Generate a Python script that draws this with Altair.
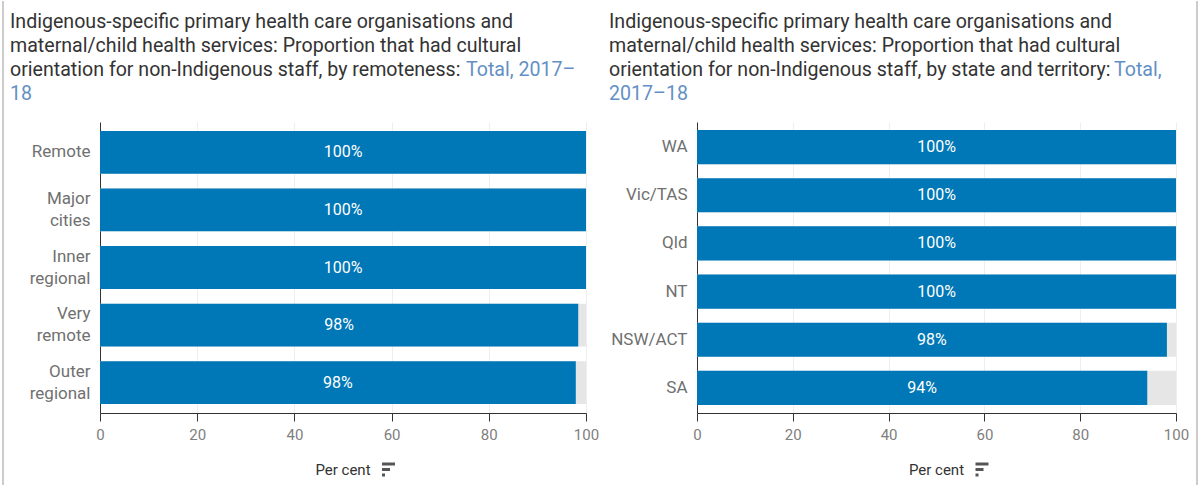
import altair as alt
import pandas as pd

FONT = "Roboto"

remote_cats = ["Remote", "Major cities", "Inner regional", "Very remote", "Outer regional"]
remote_vals = [100, 100, 100, 98.4, 97.9]

state_cats = ["WA", "Vic/TAS", "Qld", "NT", "NSW/ACT", "SA"]
state_vals = [100, 100, 100, 100, 98.1, 94.0]

x_ticks = [0, 20, 40, 60, 80, 100]
axis_title = "Per cent"

title_left_dark = [
    "Indigenous-specific primary health care organisations and",
    "maternal/child health services: Proportion that had cultural",
    "orientation for non-Indigenous staff, by remoteness:",
]
title_left_blue = ["Total, 2017–", "18"]

title_right_dark = [
    "Indigenous-specific primary health care organisations and",
    "maternal/child health services: Proportion that had cultural",
    "orientation for non-Indigenous staff, by state and territory:",
]
title_right_blue = ["Total,", "2017–18"]

BLUE = "#0077b6"
GREY_BG = "#e6e6e6"
DARK = "#333333"
LINK = "#6390c4"
TITLE_SIZE = 19.6

one_row = alt.Data(values=[{}])


def text_at(s, x, y, color, size=TITLE_SIZE, align="left"):
    return alt.Chart(one_row).mark_text(
        text=s, align=align, baseline="middle", fontSize=size, color=color, font=FONT
    ).encode(x=alt.value(x), y=alt.value(y))


def rule_at(x, x2, y, y2, color, sw):
    return alt.Chart(one_row).mark_rule(color=color, strokeWidth=sw).encode(
        x=alt.value(x), x2=alt.value(x2), y=alt.value(y), y2=alt.value(y2)
    )


def panel(cats, vals, W, H, pin, pout, dark, blue, blue_x, title_x, border_x):
    df = pd.DataFrame({"cat": cats, "value": vals})
    df["full"] = 100
    base = alt.Chart(df)
    y = alt.Y(
        "cat:N",
        sort=cats,
        title=None,
        scale=alt.Scale(paddingInner=pin, paddingOuter=pout),
        axis=alt.Axis(
            labelOffset={"condition": {"test": "indexof(datum.label, ' ') > 0", "value": -11}, "value": 0}
        ),
    )
    xs = alt.Scale(domain=[0, 100], nice=False)
    xax = alt.Axis(values=x_ticks)
    bg = base.mark_bar(color=GREY_BG).encode(
        x=alt.X("full:Q", scale=xs, title=None, axis=xax), y=y
    )
    bars = base.mark_bar(color=BLUE).encode(
        x=alt.X("value:Q", scale=xs, title=None, axis=xax), y=y
    )
    labels = (
        base.transform_calculate(
            mid="datum.value / 2", lbl="format(datum.value, '.0f') + '%'"
        )
        .mark_text(color="white", fontSize=16, font=FONT)
        .encode(x=alt.X("mid:Q", scale=xs, title=None, axis=xax), y=y, text="lbl:N")
    )
    layers = [bg, bars, labels]
    ys = [-100, -76, -52, -28]
    for i, s in enumerate(dark):
        layers.append(text_at(s, title_x, ys[i], DARK))
    layers.append(text_at(blue[0], blue_x, ys[2], LINK))
    layers.append(text_at(blue[1], title_x, ys[3], LINK))
    # axis title with sort icon
    cx = W / 2
    layers.append(text_at(axis_title, cx, 348, DARK, size=15, align="center"))
    ix = cx + 39
    layers.append(rule_at(ix, ix + 13, 342, 342, "#555555", 3))
    layers.append(rule_at(ix, ix + 8, 347.5, 347.5, "#555555", 3))
    layers.append(rule_at(ix, ix + 3, 353, 353, "#555555", 3))
    # container border
    layers.append(rule_at(border_x, border_x, -121, 363, "#cccccc", 2))
    return alt.layer(*layers).properties(width=W, height=H)


left = panel(remote_cats, remote_vals, 486, 291, 0.256, 0.156,
             title_left_dark, title_left_blue, 366, -90, -97)
right = panel(state_cats, state_vals, 479, 291, 0.29, 0.167,
              title_right_dark, title_right_blue, 417, -88, 500)

chart = (
    alt.hconcat(left, right, spacing=10)
    .properties(padding={"left": 2, "top": 0, "right": 0, "bottom": 0}, background="white")
    .configure_view(stroke=None)
    .configure_axisX(
        grid=True,
        gridColor="#eeeeee",
        domainColor=DARK,
        tickColor=DARK,
        tickSize=8,
        labelColor="#808080",
        labelFontSize=15,
        labelFont=FONT,
        labelPadding=6,
        labelFlush=False,
    )
    .configure_axisY(
        ticks=False,
        domainColor=DARK,
        labelColor="#707070",
        labelFontSize=17,
        labelFont=FONT,
        labelPadding=10,
        labelLineHeight=22,
        labelExpr="split(datum.label, ' ')",
        grid=False,
    )
)

chart.save("out.html", embed_options={"renderer": "svg", "actions": False})
